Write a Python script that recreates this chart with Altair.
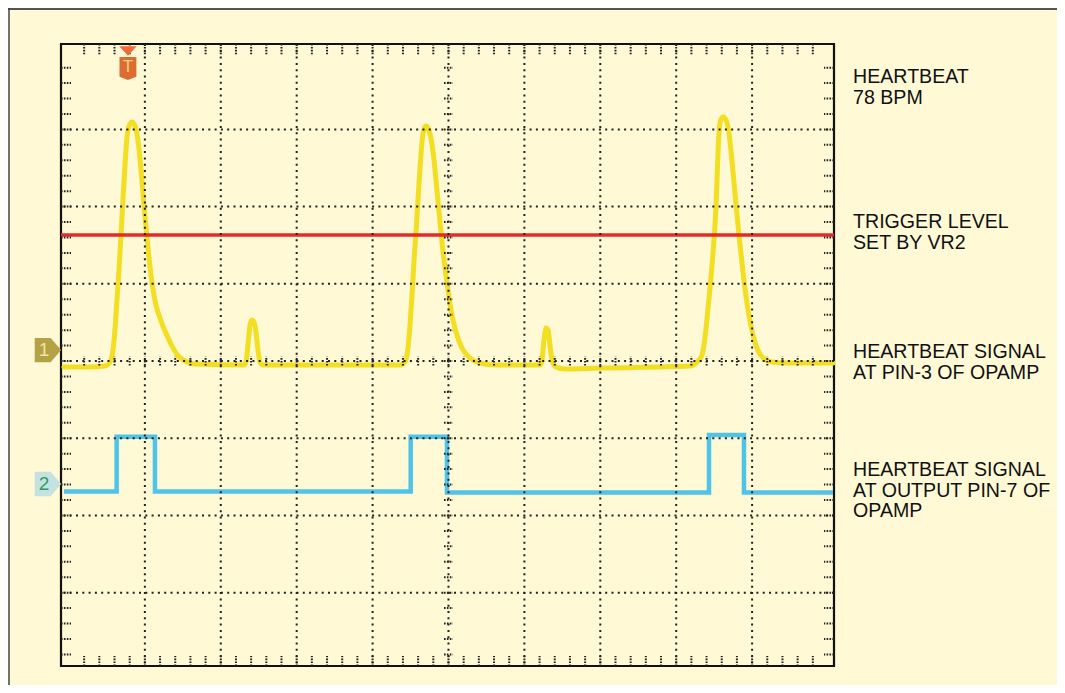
import altair as alt
import pandas as pd

# ---- Values (x: horizontal divisions, y: vertical divisions from centre)
ch1_x = [-0.066, 0.277, 0.474, 0.540, 0.580, 0.606, 0.632, 0.659, 0.685, 0.711, 0.738, 0.764, 0.791, 0.830,
         0.870, 0.909, 0.949, 0.988, 1.028, 1.080, 1.146, 1.212, 1.291, 1.370, 1.436, 1.528, 1.660, 2.306,
         2.332, 2.358, 2.385, 2.411, 2.437, 2.464, 2.490, 2.516, 2.556,
         4.361, 4.427, 4.466, 4.493, 4.519, 4.545, 4.572, 4.598, 4.625, 4.651, 4.677, 4.704, 4.730, 4.769,
         4.809, 4.848, 4.888, 4.928, 4.980, 5.033, 5.099, 5.178, 5.283, 5.415, 5.613, 6.206,
         6.232, 6.258, 6.285, 6.311, 6.337, 6.364, 6.416, 6.535, 6.996, 8.182,
         8.274, 8.340, 8.379, 8.419, 8.458, 8.485, 8.511, 8.524, 8.538, 8.551, 8.564, 8.585, 8.617, 8.656,
         8.696, 8.722, 8.748, 8.788, 8.827, 8.880, 8.933, 8.986, 9.038, 9.091, 9.157, 9.262, 9.499, 10.066]
ch1_y = [-0.078, -0.078, -0.065, -0.013, 0.142, 0.402, 0.790, 1.179, 1.632, 2.085, 2.539, 2.889, 3.044, 3.096,
         3.044, 2.863, 2.474, 2.021, 1.593, 1.114, 0.725, 0.520, 0.330, 0.170, 0.070, 0.000, -0.040, -0.052,
         -0.013, 0.207, 0.466, 0.531, 0.505, 0.376, 0.142, -0.013, -0.052,
         -0.052, -0.013, 0.168, 0.466, 0.855, 1.282, 1.671, 2.085, 2.500, 2.837, 3.005, 3.044, 3.018, 2.889,
         2.604, 2.215, 1.800, 1.412, 1.023, 0.661, 0.376, 0.168, 0.039, -0.026, -0.052, -0.052,
         0.013, 0.272, 0.427, 0.402, 0.207, 0.013, -0.078, -0.104, -0.091, -0.065,
         -0.013, 0.078, 0.300, 0.680, 1.080, 1.400, 1.760, 2.000, 2.350, 2.700, 2.950, 3.120, 3.161, 3.122,
         2.950, 2.720, 2.450, 2.030, 1.630, 1.150, 0.750, 0.450, 0.240, 0.110, 0.030, -0.013, -0.026, -0.026]

ch2_x = [-0.066, 0.628, 0.628, 1.133, 1.133, 4.502, 4.502, 4.980, 4.980, 8.432, 8.432, 8.893, 8.893, 10.066]
ch2_y = [-1.690, -1.690, -0.981, -0.981, -1.690, -1.690, -0.981, -0.981, -1.703, -1.703, -0.958, -0.958,
         -1.703, -1.703]

trigger_level = [1.632]

label_text = ["HEARTBEAT", "78 BPM", "TRIGGER LEVEL", "SET BY VR2", "HEARTBEAT SIGNAL",
              "AT PIN-3 OF OPAMP", "HEARTBEAT SIGNAL", "AT OUTPUT PIN-7 OF", "OPAMP"]
label_y = [3.597, 3.329, 1.719, 1.451, 0.039, -0.233, -1.490, -1.758, -2.021]
label_x = [10.33] * len(label_text)

marker_text = ["1", "2"]
marker_y = [0.142, -1.593]
marker_x = [-0.277, -0.277]
marker_fill = ["#B3A345", "#C6E2E0"]
marker_color = ["#EEE6A6", "#2F9C66"]

trig_x = [0.777]
trig_shield_y = [3.789]
trig_arrow_y = [4.015]

# ---- screen geometry
X_DOM = [-0.105, 10.079]
Y_DOM = [-3.95, 4.106]
xs = alt.Scale(domain=X_DOM, nice=False, zero=False)
ys = alt.Scale(domain=Y_DOM, nice=False, zero=False)
FONT = "Liberation Sans"
GRID = "#222222"

def X(f="x"):
    return alt.X(f"{f}:Q", scale=xs, axis=None)

def Y(f="y"):
    return alt.Y(f"{f}:Q", scale=ys, axis=None)

# traces
ch1 = alt.Chart(pd.DataFrame({"x": ch1_x, "y": ch1_y, "i": range(len(ch1_x))})).mark_line(
    color="#F4DE22", strokeWidth=5, interpolate="monotone", strokeJoin="round", strokeCap="round"
).encode(x=X(), y=Y(), order="i:Q")

ch2 = alt.Chart(pd.DataFrame({"x": ch2_x, "y": ch2_y, "i": range(len(ch2_x))})).mark_line(
    color="#4EC4E8", strokeWidth=4.5, strokeJoin="miter"
).encode(x=X(), y=Y(), order="i:Q")

trig = alt.Chart(pd.DataFrame({"y": trigger_level})).mark_rule(
    color="#E52A2A", strokeWidth=3.5
).encode(y=Y())

# graticule
vgrid = alt.Chart(pd.DataFrame({"x": list(range(1, 10))})).mark_rule(
    color=GRID, strokeWidth=2, strokeDash=[2, 4.3]
).encode(x=X())
hgrid = alt.Chart(pd.DataFrame({"y": list(range(-3, 4))})).mark_rule(
    color=GRID, strokeWidth=2, strokeDash=[2, 4.3]
).encode(y=Y())

ticks = []
for k in range(1, 50):
    xv = k * 0.2
    ticks.append((xv, xv, -0.058, 0.058))          # centre horizontal line
    ticks.append((xv, xv, Y_DOM[1], Y_DOM[1] - 0.142))  # top edge
    ticks.append((xv, xv, Y_DOM[0], Y_DOM[0] + 0.13))   # bottom edge
for k in range(-19, 20):
    yv = k * 0.2
    ticks.append((5 - 0.059, 5 + 0.059, yv, yv))   # centre vertical line
    ticks.append((X_DOM[0], X_DOM[0] + 0.132, yv, yv))  # left edge
    ticks.append((X_DOM[1], X_DOM[1] - 0.132, yv, yv))  # right edge
tdf = pd.DataFrame(ticks, columns=["x", "x2", "y", "y2"])
tick_layer = alt.Chart(tdf).mark_rule(color=GRID, strokeWidth=2, strokeDash=[1.6, 1.3]).encode(
    x=X(), x2="x2:Q", y=Y(), y2="y2:Q"
)

# channel markers
mdf = pd.DataFrame({"x": marker_x, "y": marker_y, "t": marker_text, "f": marker_fill, "c": marker_color})
mk_shape = alt.Chart(mdf).mark_point(
    shape="M -1 -0.92 L 0.2 -0.92 L 1 0 L 0.2 0.92 L -1 0.92 Z", size=700, filled=True, opacity=1,
    strokeWidth=0
).encode(x=X(), y=Y(), fill=alt.Fill("f:N", scale=None))
mk_text = alt.Chart(mdf).mark_text(
    font=FONT, fontSize=19, baseline="middle", align="center", dx=-4
).encode(x=X(), y=Y(), text="t:N", color=alt.Color("c:N", scale=None))

tdf2 = pd.DataFrame({"x": trig_x, "y": trig_shield_y, "ya": trig_arrow_y, "t": ["T"]})
t_shield = alt.Chart(tdf2).mark_point(
    shape="M -0.74 -1 L 0.74 -1 L 0.74 0.72 L 0 1 L -0.74 0.72 Z", size=520, filled=True, opacity=1,
    strokeWidth=0, color="#DD6B32"
).encode(x=X(), y=Y())
t_arrow = alt.Chart(tdf2).mark_point(
    shape="M -1 -0.55 L 1 -0.55 L 0 0.55 Z", size=300, filled=True, opacity=1, strokeWidth=0, color="#F06A3A"
).encode(x=X(), y=Y("ya"))
t_text = alt.Chart(tdf2).mark_text(
    font=FONT, fontSize=17, baseline="middle", align="center", color="#F7D27A", dy=-1
).encode(x=X(), y=Y(), text="t:N")

# labels
ldf = pd.DataFrame({"x": label_x, "y": label_y, "t": label_text})
labels = alt.Chart(ldf).mark_text(
    font=FONT, fontSize=19.6, align="left", baseline="alphabetic", color="#111111"
).encode(x=X(), y=Y(), text="t:N")

# page border (decoration)
border_top = alt.Chart(pd.DataFrame({"a": [0]})).mark_rule(color="#555555", strokeWidth=2).encode(
    x=alt.value(-53), x2=alt.value(996), y=alt.value(-35)
)
border_left = alt.Chart(pd.DataFrame({"a": [0]})).mark_rule(color="#444444", strokeWidth=1.5).encode(
    x=alt.value(-52), y=alt.value(-36), y2=alt.value(641)
)

chart = alt.layer(
    ch1, ch2, trig, vgrid, hgrid, tick_layer, mk_shape, mk_text, t_shield, t_text, t_arrow, labels,
    border_top, border_left
).properties(
    width=773, height=622,
    autosize=alt.AutoSizeParams(type="none"),
    padding={"left": 53, "top": 36, "right": 223, "bottom": 19},
    background="#FFF9D6",
).configure_view(stroke="#111111", strokeWidth=2.2)

chart.save("out.html", embed_options={"renderer": "svg", "actions": False})
